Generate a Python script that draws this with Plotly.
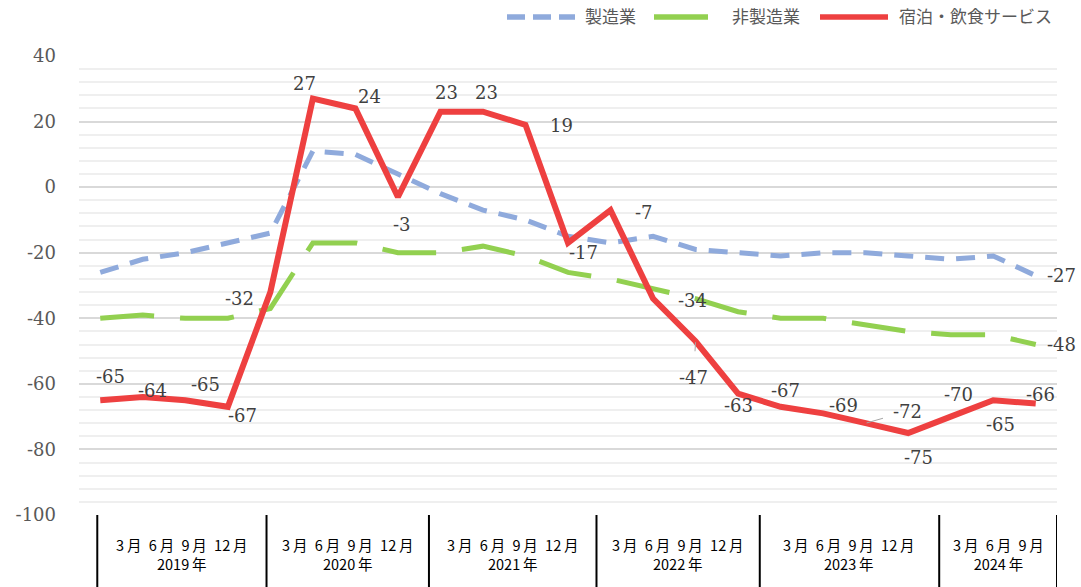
import plotly.graph_objects as go

# ---------------- data ----------------
years = ["2019\u2009年", "2020\u2009年", "2021\u2009年", "2022\u2009年", "2023\u2009年", "2024\u2009年"]
month_labels = ["3\u2009月\u20026\u2009月\u20029\u2009月\u200212\u2009月"] * 5 + ["3\u2009月\u20026\u2009月\u20029\u2009月"]
quarters = (["2019-03", "2019-06", "2019-09", "2019-12",
             "2020-03", "2020-06", "2020-09", "2020-12",
             "2021-03", "2021-06", "2021-09", "2021-12",
             "2022-03", "2022-06", "2022-09", "2022-12",
             "2023-03", "2023-06", "2023-09", "2023-12",
             "2024-03", "2024-06", "2024-09"])

manufacturing = [-26, -22, -20, -17, -14, 11, 10, 4, -2, -7, -10, -15,
                 -17, -15, -19, -20, -21, -20, -20, -21, -22, -21, -27]
non_manufacturing = [-40, -39, -40, -40, -37, -17, -17, -20, -20, -18, -21, -26,
                     -28, -31, -34, -38, -40, -40, -42, -44, -45, -45, -48]
hospitality = [-65, -64, -65, -67, -32, 27, 24, -3, 23, 23, 19, -17,
               -7, -34, -47, -63, -67, -69, -72, -75, -70, -65, -66]

series_names = ["製造業", "非製造業", "宿泊・飲食サービス"]
y_ticks = [40, 20, 0, -20, -40, -60, -80, -100]

# ---------------- styles ----------------
BLUE = "#8FAADC"
GREEN = "#92D050"
RED = "#EE4040"
DASH_BLUE = "19px,12px"
DASH_GREEN = "54px,26px"
SERIF = "DejaVu Serif"
JP = "Noto Sans CJK JP"

W, H = 1081, 587
L, R, T, B = 79, 24, 56, 72
PW, PH = W - L - R, H - T - B

# label offsets (pixels: dx right, dy down) for hospitality series
red_off = [(10, -24), (10, -6), (20, -16), (15, 9), (-31, 6), (-8, -15), (14, -12),
           (4, 28), (6, -19), (4, -19), (36, 1), (15, 10), (33, 2), (39, 2),
           (-2, 36), (0, 12), (5, -16), (20, -8), (42, -12), (10, 24), (8, -22),
           (7, 24), (5, -9)]
leader_idx = {14: 14, 18: 9}  # index -> startstandoff
# group divider positions along x (index units)
dividers = [-0.07, 3.91, 7.73, 11.67, 15.51, 19.73, 22.5]

x = list(range(len(quarters)))

fig = go.Figure()
fig.add_trace(go.Scatter(x=x, y=manufacturing, mode="lines", name=series_names[0],
                         line=dict(color=BLUE, width=5, dash=DASH_BLUE),
                         hovertext=quarters))
fig.add_trace(go.Scatter(x=x, y=non_manufacturing, mode="lines", name=series_names[1],
                         line=dict(color=GREEN, width=5, dash=DASH_GREEN),
                         hovertext=quarters))
fig.add_trace(go.Scatter(x=x, y=hospitality, mode="lines", name=series_names[2],
                         line=dict(color=RED, width=6),
                         hovertext=quarters))

annotations = []
label_font = dict(family=SERIF, size=18, color="#404040")
for i, v in enumerate(hospitality):
    dx, dy = red_off[i]
    lead = i in leader_idx
    annotations.append(dict(
        x=x[i], y=v, text=str(v), showarrow=True, ax=dx, ay=dy,
        arrowhead=0, arrowwidth=1,
        arrowcolor="#A6A6A6" if lead else "rgba(0,0,0,0)",
        standoff=1, startstandoff=leader_idx.get(i, 0),
        font=label_font))
# end labels for the other two series
for arr in (manufacturing, non_manufacturing):
    annotations.append(dict(x=x[-1], y=arr[-1], text=str(arr[-1]), showarrow=True,
                            ax=26, ay=0, arrowcolor="rgba(0,0,0,0)", font=label_font))

def px2px(px):
    return (px - L) / PW

def py2py(py):
    return (T + PH - py) / PH

# category axis labels (two lines per year group)
for g in range(len(years)):
    xc = (dividers[g] + dividers[g + 1]) / 2
    annotations.append(dict(x=xc, xref="x", y=py2py(554), yref="paper",
                            xanchor="center", yanchor="middle",
                            text=month_labels[g] + "<br>" + years[g], showarrow=False,
                            font=dict(family=JP, size=14.5, color="#000000")))

shapes = []
for d in dividers:
    shapes.append(dict(type="line", xref="x", yref="paper", x0=d, x1=d,
                       y0=0, y1=py2py(H + 2), line=dict(color="#000000", width=2)))

# manual legend
legend_items = [(505, 583, BLUE, "18px,8px", series_names[0]),
                (652, 730, GREEN, DASH_GREEN, series_names[1]),
                (818, 897, RED, "solid", series_names[2])]
ly = 16
for x0, tx, col, dash, name in legend_items:
    shapes.append(dict(type="line", xref="paper", yref="paper",
                       x0=px2px(x0 + 2), x1=px2px(x0 + 70), y0=py2py(ly + 1), y1=py2py(ly + 1),
                       line=dict(color=col, width=5.5, dash=dash)))
    annotations.append(dict(x=px2px(tx), y=py2py(ly), xref="paper", yref="paper",
                            xanchor="left", yanchor="middle", text=name, showarrow=False,
                            font=dict(family=JP, size=17, color="#595959")))

fig.update_layout(
    width=W, height=H,
    margin=dict(l=L, r=R, t=T, b=B, autoexpand=False),
    paper_bgcolor="white", plot_bgcolor="white",
    showlegend=False,
    annotations=annotations,
    shapes=shapes,
    xaxis=dict(range=[-0.5, 22.5], showgrid=False, zeroline=False, showticklabels=False,
               showline=False, ticks="", automargin=False),
    yaxis=dict(range=[-100, 40], tickmode="array", tickvals=y_ticks,
               ticktext=[str(t) for t in y_ticks], showgrid=True,
               gridcolor="#D9D9D9", gridwidth=1.5, zeroline=False, showline=False,
               ticks="", ticklabelstandoff=22, automargin=False,
               tickfont=dict(family=SERIF, size=18, color="#595959"),
               minor=dict(dtick=4, tick0=0, showgrid=True, gridcolor="#EFEFEF", gridwidth=1.5)),
)

fig.write_html("out.html", config={"displayModeBar": False},
               post_script="document.body.style.margin='0px';document.body.style.overflow='hidden';")
